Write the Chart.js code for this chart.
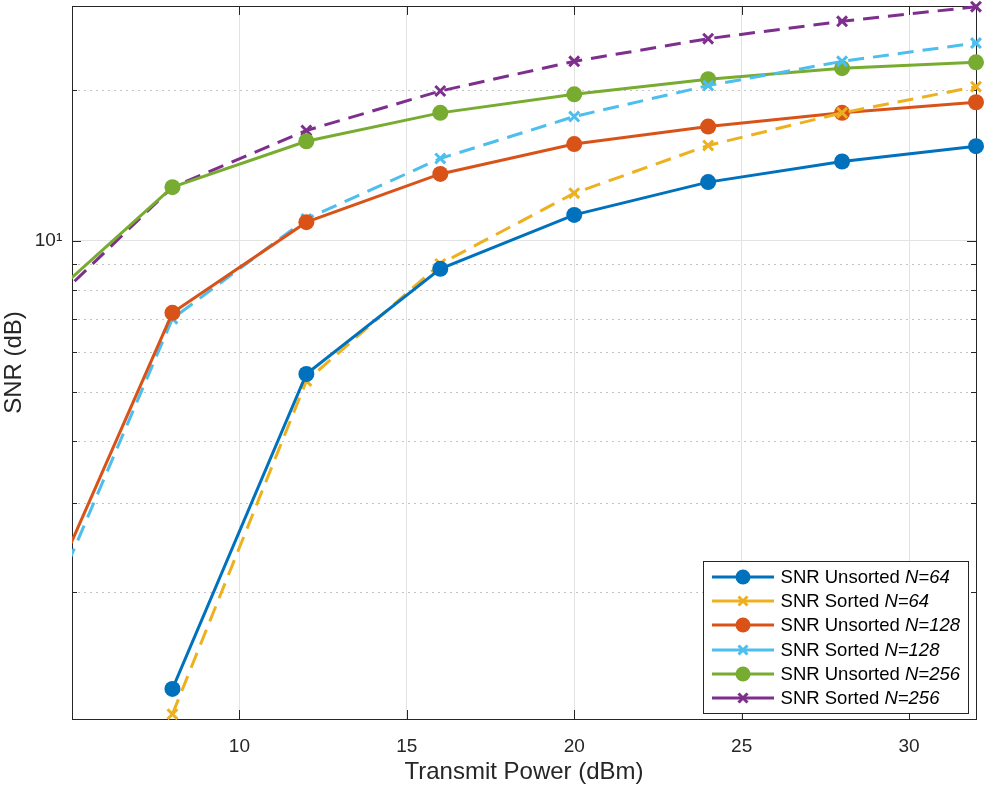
<!DOCTYPE html>
<html>
<head>
<meta charset="utf-8">
<script src="https://cdn.jsdelivr.net/npm/chart.js@4.4.0/dist/chart.umd.min.js"></script>
<style>
  html, body { margin: 0; padding: 0; background: #fff; }
  #wrap { position: relative; width: 987px; height: 792px; }
  #legend {
    position: absolute; background: #fff; border: 1px solid #262626;
    font-family: "Liberation Sans", Arial, sans-serif; font-size: 18.5px; color: #000;
    padding: 3px 8px 3px 8px; box-sizing: border-box;
  }
  #legend .row { display: flex; align-items: center; height: 24.2px; white-space: nowrap; }
  #legend canvas { margin-right: 7px; }
  #legend i { font-style: italic; }
</style>
</head>
<body>
<div id="wrap">
  <canvas id="myChart" width="987" height="792"></canvas>
  <div id="legend"></div>
</div>
<script>
// transmit power (dBm); x=4 lies left of the visible axis
var power = [4, 8, 12, 16, 20, 24, 28, 32];
var unsorted64  = [null, 1.28, 5.43, 8.80, 11.27, 13.1, 14.4, 15.45];
var sorted64    = [null, 1.14, 5.26, 9.0, 12.45, 15.5, 18.0, 20.3];
var unsorted128 = [1.78, 7.19, 10.9, 13.6, 15.6, 16.9, 18.0, 18.9];
var sorted128   = [1.66, 7.0, 11.06, 14.6, 17.7, 20.4, 22.8, 24.8];
var unsorted256 = [7.36, 12.8, 15.8, 18.0, 19.6, 21.0, 22.1, 22.7];
var sorted256   = [7.09, 12.8, 16.6, 19.9, 22.8, 25.3, 27.4, 29.3];

var seriesNames = ['SNR Unsorted', 'SNR Sorted', 'SNR Unsorted', 'SNR Sorted', 'SNR Unsorted', 'SNR Sorted'];
var seriesN = ['N=64', 'N=64', 'N=128', 'N=128', 'N=256', 'N=256'];

var xTicks = [10, 15, 20, 25, 30];
var yMajor = [10];
var yMinor = [2, 3, 4, 5, 6, 7, 8, 9, 20];

var colors = ['#0072BD', '#EDB120', '#D95319', '#4DBEEE', '#77AC30', '#7E2F8E'];
var allSeries = [unsorted64, sorted64, unsorted128, sorted128, unsorted256, sorted256];

function pts(arr) {
  return power.map(function (p, i) { return { x: p, y: arr[i] }; });
}

var datasets = allSeries.map(function (arr, i) {
  var sorted = i % 2 === 1;
  return {
    label: seriesNames[i] + ' ' + seriesN[i],
    data: pts(arr),
    borderColor: colors[i],
    backgroundColor: colors[i],
    borderWidth: 3,
    borderDash: sorted ? [16, 9] : [],
    pointStyle: sorted ? 'crossRot' : 'circle',
    pointRadius: sorted ? 7 : 8,
    pointBorderWidth: sorted ? 3 : 0,
    pointBorderColor: colors[i],
    pointBackgroundColor: colors[i],
    pointHoverRadius: 8,
    tension: 0,
    spanGaps: false,
    clip: { left: 0, top: 10, right: 10, bottom: 8 }
  };
});

var axisFrame = {
  id: 'axisFrame',
  beforeDatasetsDraw: function (chart) {
    var ctx = chart.ctx, a = chart.chartArea;
    var xs = chart.scales.x, ys = chart.scales.y;
    ctx.save();
    // dotted minor grid
    ctx.strokeStyle = '#c4c4c4';
    ctx.lineWidth = 1;
    ctx.setLineDash([2, 4]);
    yMinor.forEach(function (v) {
      var py = Math.round(ys.getPixelForValue(v)) + 0.5;
      ctx.beginPath(); ctx.moveTo(a.left, py); ctx.lineTo(a.right, py); ctx.stroke();
    });
    ctx.setLineDash([]);
    // box
    ctx.strokeStyle = '#262626';
    ctx.lineWidth = 1;
    ctx.strokeRect(Math.round(a.left) + 0.5, Math.round(a.top) + 0.5,
      Math.round(a.right - a.left), Math.round(a.bottom - a.top));
    // inward tick marks
    ctx.beginPath();
    xTicks.forEach(function (v) {
      var px = Math.round(xs.getPixelForValue(v)) + 0.5;
      ctx.moveTo(px, a.bottom); ctx.lineTo(px, a.bottom - 9);
      ctx.moveTo(px, a.top); ctx.lineTo(px, a.top + 9);
    });
    yMajor.forEach(function (v) {
      var py = Math.round(ys.getPixelForValue(v)) + 0.5;
      ctx.moveTo(a.left, py); ctx.lineTo(a.left + 9, py);
      ctx.moveTo(a.right, py); ctx.lineTo(a.right - 9, py);
    });
    yMinor.forEach(function (v) {
      var py = Math.round(ys.getPixelForValue(v)) + 0.5;
      ctx.moveTo(a.left, py); ctx.lineTo(a.left + 5, py);
      ctx.moveTo(a.right, py); ctx.lineTo(a.right - 5, py);
    });
    ctx.stroke();
    ctx.restore();
  }
};

var font = '"Liberation Sans", Arial, sans-serif';

var ctx = document.getElementById('myChart');
var myChart = new Chart(ctx, {
  type: 'line',
  data: { datasets: datasets },
  options: {
    responsive: false,
    animation: false,
    devicePixelRatio: 1,
    layout: { autoPadding: false, padding: { top: 5, right: 11, left: 0, bottom: 0 } },
    plugins: { legend: { display: false }, tooltip: { enabled: false } },
    scales: {
      x: {
        type: 'linear',
        min: 5,
        max: 32,
        afterBuildTicks: function (scale) {
          scale.ticks = xTicks.map(function (v) { return { value: v }; });
        },
        afterFit: function (scale) { scale.height = 73; },
        grid: { color: '#e3e3e3', lineWidth: 1, drawTicks: false },
        border: { display: false },
        ticks: { color: '#262626', font: { family: font, size: 19 }, padding: 16, maxRotation: 0 },
        title: {
          display: true, text: 'Transmit Power (dBm)', color: '#262626',
          font: { family: font, size: 24 }, padding: { top: 0, bottom: 5 }
        }
      },
      y: {
        type: 'logarithmic',
        min: 1.115,
        max: 29.4,
        afterBuildTicks: function (scale) {
          scale.ticks = yMajor.map(function (v) { return { value: v }; });
        },
        afterFit: function (scale) { scale.width = 72; },
        grid: { color: '#e3e3e3', lineWidth: 1, drawTicks: false },
        border: { display: false },
        ticks: {
          color: '#262626', font: { family: font, size: 19, lineHeight: 0.1 }, padding: 5,
          callback: function (v) { return v === 10 ? '10\u00B9\u2005' : ''; }
        },
        title: {
          display: true, text: 'SNR (dB)', color: '#262626',
          font: { family: font, size: 24 }, padding: { top: 0, bottom: 0 }
        }
      }
    }
  },
  plugins: [axisFrame]
});

// legend with line + marker samples and italic N
function buildLegend(chart) {
  var box = document.getElementById('legend');
  datasets.forEach(function (ds, i) {
    var row = document.createElement('div');
    row.className = 'row';
    var c = document.createElement('canvas');
    c.width = 62; c.height = 24;
    var g = c.getContext('2d');
    g.strokeStyle = ds.borderColor;
    g.fillStyle = ds.borderColor;
    g.lineWidth = 3;
    g.beginPath(); g.moveTo(0, 12); g.lineTo(62, 12); g.stroke();
    if (ds.pointStyle === 'circle') {
      g.beginPath(); g.arc(31, 12, 7.5, 0, Math.PI * 2); g.fill();
    } else {
      g.beginPath();
      g.moveTo(26.5, 7.5); g.lineTo(35.5, 16.5);
      g.moveTo(35.5, 7.5); g.lineTo(26.5, 16.5);
      g.stroke();
    }
    row.appendChild(c);
    var t = document.createElement('span');
    t.innerHTML = seriesNames[i] + ' <i>' + seriesN[i] + '</i>';
    row.appendChild(t);
    box.appendChild(row);
  });
  var a = chart.chartArea;
  box.style.right = (987 - a.right + 7) + 'px';
  box.style.bottom = (792 - a.bottom + 5) + 'px';
}
buildLegend(myChart);
</script>
</body>
</html>
